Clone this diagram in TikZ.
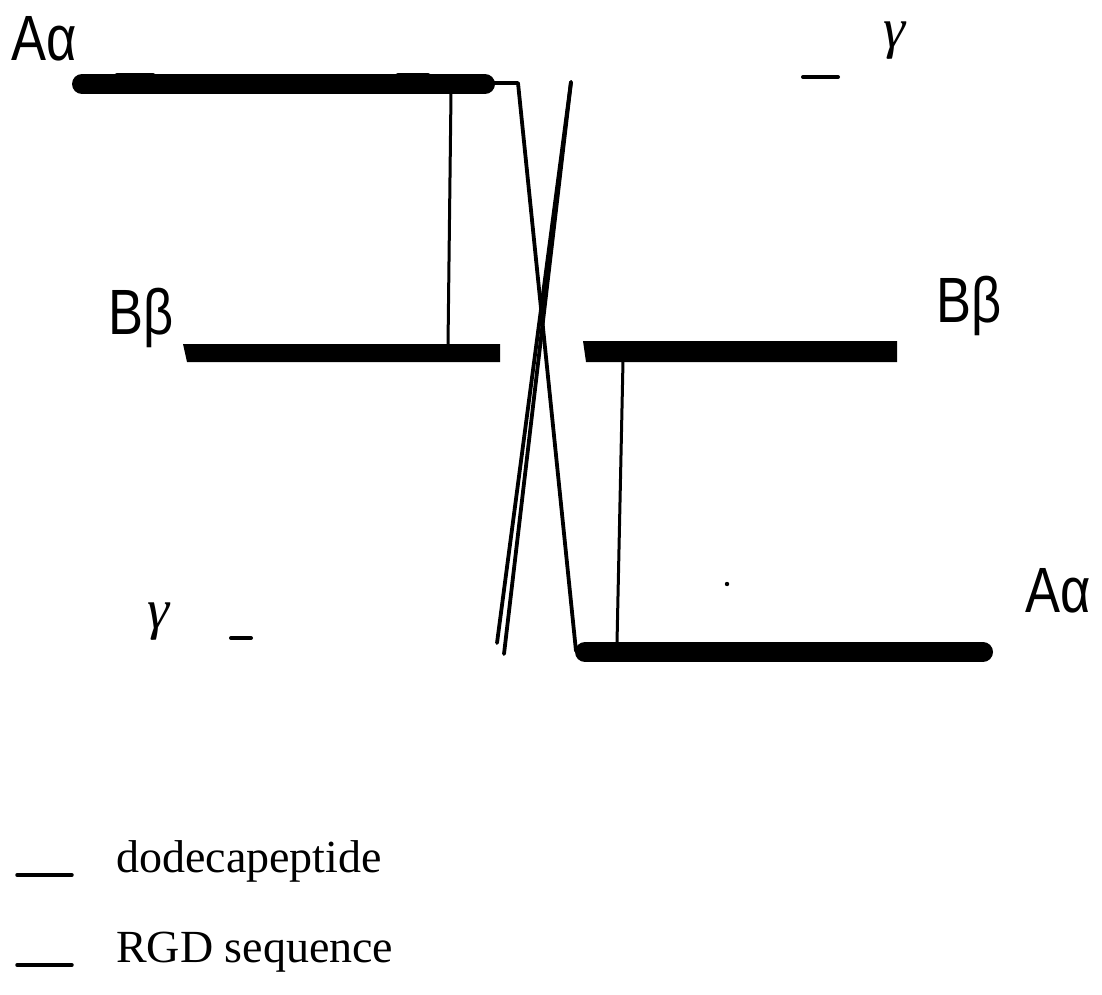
\documentclass[tikz,border=0pt]{standalone}
\usepackage{fontspec}
\setmainfont{Liberation Serif}
\newfontfamily\labelsans{Liberation Sans}
\begin{document}
\begin{tikzpicture}[x=1pt,y=-1pt,
  chainlab/.style={inner sep=0pt,anchor=base west,font=\labelsans\fontsize{64}{64}\selectfont},
  gammalab/.style={inner sep=0pt,anchor=base west,font=\fontsize{56}{56}\selectfont\itshape},
  legendtext/.style={inner sep=0pt,anchor=base west,font=\fontsize{46}{46}\selectfont},
  abar/.style={line width=20pt,line cap=round},
  bump/.style={line width=7pt,line cap=round},
  link/.style={line width=3pt},
  cross/.style={line width=3.8pt,line cap=round},
  tick/.style={line width=4pt,line cap=round},
  legendline/.style={line width=3.5pt,line cap=round}]
\useasboundingbox (0,0) rectangle (1102,995);

% labels
\node[chainlab] (aTop) at (11,61) {\scalebox{0.82}[1]{Aα}};
\node[chainlab] (bLeft) at (108,334) {\scalebox{0.82}[1]{Bβ}};
\node[chainlab] (bRight) at (936,322) {\scalebox{0.82}[1]{Bβ}};
\node[chainlab] (aBot) at (1025,612) {\scalebox{0.82}[1]{Aα}};
\node[gammalab] (gTop) at (883,48) {γ};
\node[gammalab] (gBot) at (147,628) {γ};

% top A-alpha chain
\coordinate (a1L) at (82,84);
\coordinate (a1R) at (485,84);
\draw[abar] (a1L) -- (a1R);
\coordinate (b1a) at (117,77); \coordinate (b1b) at (153,77);
\coordinate (b2a) at (398,77); \coordinate (b2b) at (428,77);
\draw[bump] (b1a) -- (b1b);
\draw[bump] (b2a) -- (b2b);

% bottom A-alpha chain
\coordinate (a2L) at (585,652);
\coordinate (a2R) at (983,652);
\draw[abar] (a2L) -- (a2R);
\coordinate (b3a) at (638,645); \coordinate (b3b) at (667,645);
\coordinate (b4a) at (898,645); \coordinate (b4b) at (929,645);
\draw[bump] (b3a) -- (b3b);
\draw[bump] (b4a) -- (b4b);

% B-beta chains
\fill (183,344) -- (500,344) -- (500,362) -- (187,362) -- cycle;
\fill (583,341) -- (897,341) -- (897,362) -- (586,362) -- cycle;

% connectors
\coordinate (t1) at (451,93);
\coordinate (t2) at (448,345);
\draw[link] (t1) -- (t2);
\coordinate (r1) at (623,361);
\coordinate (r2) at (617,643);
\draw[link] (r1) -- (r2);

\coordinate (c0) at (494,83);
\coordinate (c1) at (518,83);
\coordinate (c2) at (576,651);
\draw[cross,line join=round] (c0) -- (c1) -- (c2);

\coordinate (x0) at (571,82);
\coordinate (x1) at (504,654);
\coordinate (x2) at (497,643);
\draw[cross] (x0) -- (x1);
\draw[cross] (x0) -- (x2);

% small dashes near gamma
\coordinate (d1a) at (803,77); \coordinate (d1b) at (838,77);
\draw[tick] (d1a) -- (d1b);
\coordinate (d2a) at (231,638); \coordinate (d2b) at (251,638);
\draw[tick] (d2a) -- (d2b);

% stray dot
\fill (727,584) circle (2.2);

% legend
\coordinate (l1a) at (17,875); \coordinate (l1b) at (72,875);
\draw[legendline] (l1a) -- (l1b);
\node[legendtext] (leg1) at (116,872) {dodecapeptide};
\coordinate (l2a) at (17,965); \coordinate (l2b) at (72,965);
\draw[legendline] (l2a) -- (l2b);
\node[legendtext] (leg2) at (116,962) {RGD sequence};
\end{tikzpicture}
\end{document}
